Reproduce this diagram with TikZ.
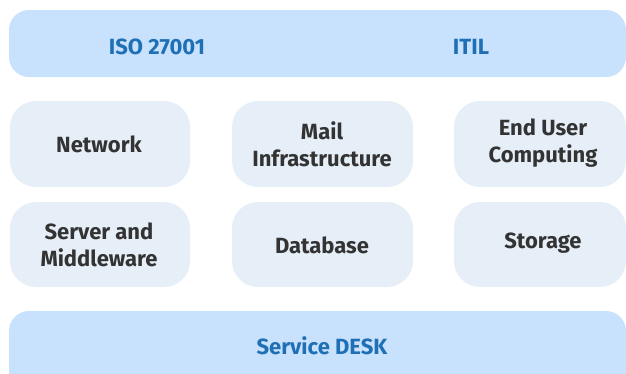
\documentclass[tikz,border=0pt]{standalone}
\usepackage{fontspec}
\setmainfont{Fira Sans}
\definecolor{barblue}{HTML}{C8E1FD}
\definecolor{boxgray}{HTML}{E6EFF8}
\definecolor{textblue}{HTML}{1F6FB5}
\definecolor{textdark}{HTML}{333333}
\tikzset{
  bar/.style={fill=barblue, draw=none, rounded corners=20pt},
  tile/.style={fill=boxgray, draw=none, rounded corners=26pt},
  bluelabel/.style={text=textblue, font=\fontsize{22}{26}\selectfont\bfseries, inner sep=0pt},
  darklabel/.style={text=textdark, font=\fontsize{22}{27}\selectfont\bfseries, align=center, inner sep=0pt},
}
\begin{document}
\begin{tikzpicture}[x=1pt,y=-1pt]
\useasboundingbox (0,0) rectangle (626,373);
\clip (0,0) rectangle (626,373);
% bars
\path[bar] (9,10) rectangle (626,77);
\path[bar] (9,311) rectangle (626,395);
% tiles
\path[tile] (10,101) rectangle (190,187);
\path[tile] (232,101) rectangle (413,187);
\path[tile] (454,101) rectangle (626,187);
\path[tile] (10,202) rectangle (190,287);
\path[tile] (232,202) rectangle (413,287);
\path[tile] (454,202) rectangle (626,287);
% labels
\node[bluelabel] (iso) at (157,47) {ISO 27001};
\node[bluelabel] (itil) at (471,47) {ITIL};
\node[bluelabel] (desk) at (322,346) {Service DESK};
\node[darklabel] (net) at (99,144) {Network};
\node[darklabel] (mail) at (322,144) {Mail\\Infrastructure};
\node[darklabel] (euc) at (543,143) {End User\\Computing};
\node[darklabel] (srv) at (99,245) {Server and\\Middleware};
\node[darklabel] (db) at (322,245) {Database};
\node[darklabel] (sto) at (543,243) {Storage};
\end{tikzpicture}
\end{document}
